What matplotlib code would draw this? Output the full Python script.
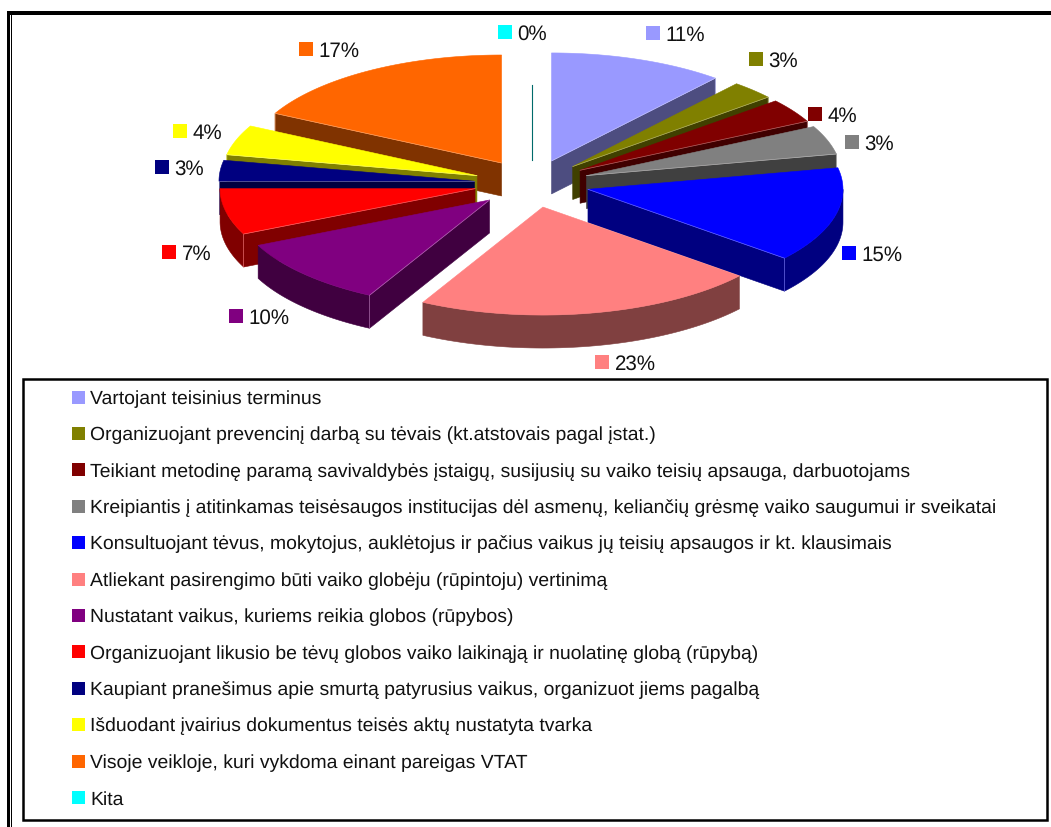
"""
Išskleista 3D skritulinė diagrama su legenda
"""
import numpy as np
import matplotlib
matplotlib.use('Agg')
import matplotlib.pyplot as plt
from matplotlib.colors import to_rgb
from matplotlib.patches import Polygon, Rectangle

plt.rcParams['text.hinting'] = 'no_hinting'

# duomenys
etiketes = ['11%', '3%', '4%', '3%', '15%', '23%', '10%', '7%', '3%', '4%', '17%', '0%']
# dalių dydžiai, išmatuoti paveiksle (3D vaizde jie šiek tiek skiriasi nuo užrašų)
dalys = [11.1, 2.8, 3.6, 4.3, 14.2, 21.8, 10.3, 6.9, 3.1, 4.5, 17.4, 0.0]
spalvos = ['#9999FF', '#808000', '#800000', '#808080', '#0000FF', '#FF8080',
           '#800080', '#FF0000', '#000080', '#FFFF00', '#FF6600', '#00FFFF']
pavadinimai = [
    'Vartojant teisinius terminus',
    'Organizuojant prevencinį darbą su tėvais (kt.atstovais pagal įstat.)',
    'Teikiant metodinę paramą savivaldybės įstaigų, susijusių su vaiko teisių apsauga, darbuotojams',
    'Kreipiantis į atitinkamas teisėsaugos institucijas dėl asmenų, keliančių grėsmę vaiko saugumui ir sveikatai',
    'Konsultuojant tėvus, mokytojus, auklėtojus ir pačius vaikus jų teisių apsaugos ir kt. klausimais',
    'Atliekant pasirengimo būti vaiko globėju (rūpintoju) vertinimą',
    'Nustatant vaikus, kuriems reikia globos (rūpybos)',
    'Organizuojant likusio be tėvų globos vaiko laikinąją ir nuolatinę globą (rūpybą)',
    'Kaupiant pranešimus apie smurtą patyrusius vaikus, organizuot jiems pagalbą',
    'Išduodant įvairius dokumentus teisės aktų nustatyta tvarka',
    'Visoje veikloje, kuri vykdoma einant pareigas VTAT',
    'Kita',
]

# išdėstymas pikseliais
CX, CY = 531.7, 184.5    # skritulio centras
RX, RY = 255, 108        # elipsės pusašiai
DX, DY = 58, 24          # išskleidimas
GYLIS = 33               # sienelės aukštis
etikete_xy = [(646, 34), (749, 60), (808, 115), (845, 143), (842, 254), (595, 363),
              (229, 317), (162, 253), (155, 168), (173, 132), (299, 50), (498, 33)]
FONTAS = 'Liberation Sans'


def siena(ax, taskai, spalva, z):
    ax.add_patch(Polygon(taskai, closed=True, fc=spalva, ec=spalva, lw=0.4, zorder=z))


def piesti_dali(ax, t1, t2, spalva, z):
    """Viena dalis: matomos sienelės ir viršus"""
    vid = (t1 + t2) / 2
    x0 = CX + DX * np.sin(vid)
    y0 = CY - DY * np.cos(vid)
    rgb = to_rgb(spalva)
    tamsi = tuple(k * 0.5 for k in rgb)
    sviesi = tuple(k * 0.5 + 0.5 for k in rgb)

    def krastas(t):
        return x0 + RX * np.sin(t), y0 - RY * np.cos(t)

    if t2 - t1 < 1e-6:
        # 0 % dalis matoma tik kaip plona linija
        xk, yk = krastas(t1)
        ax.plot([xk, x0], [yk + GYLIS, y0], color=(0, 0.42, 0.42), lw=0.8, zorder=z)
        return

    # išorinė sienelė (tik priekinė pusė)
    a = max(t1, np.pi / 2)
    b = min(t2, 3 * np.pi / 2)
    if b > a:
        ts = np.linspace(a, b, 60)
        xs, ys = krastas(ts)
        siena(ax, np.r_[np.c_[xs, ys], np.c_[xs[::-1], ys[::-1] + GYLIS]], tamsi, z)

    # radialinės sienelės
    for t, matoma in ((t1, np.sin(t1) < 0), (t2, np.sin(t2) > 0)):
        if matoma:
            xk, yk = krastas(t)
            siena(ax, [(x0, y0), (xk, yk), (xk, yk + GYLIS), (x0, y0 + GYLIS)], tamsi, z)

    # viršus
    ts = np.linspace(t1, t2, 120)
    xs, ys = krastas(ts)
    siena(ax, np.r_[[(x0, y0)], np.c_[xs, ys]], spalva, z + 0.5)

    # šviesūs kampai
    for t, matoma in ((t1, np.sin(t1) < 0), (t2, np.sin(t2) > 0)):
        if matoma:
            xk, yk = krastas(t)
            ax.plot([x0, xk, xk], [y0, yk, yk + GYLIS], color=sviesi, lw=0.5, alpha=0.8,
                    zorder=z + 0.6)


fig = plt.figure(figsize=(10.51, 8.28), dpi=100)
ax = fig.add_axes([0, 0, 1, 1])
ax.set_xlim(0, 1051)
ax.set_ylim(828, 0)
ax.axis('off')

# rėmelis
ax.add_patch(Rectangle((7.3, 12), 1051, 4, fc='black', ec='none', zorder=1))
ax.add_patch(Rectangle((7.3, 12), 2.9, 828, fc='black', ec='none', zorder=1))
ax.add_patch(Rectangle((11.3, 16), 1.1, 828, fc='black', ec='none', zorder=1))

# skritulio dalys: nuo galinių į priekines
ribos = np.r_[0, np.cumsum(dalys)] / np.sum(dalys) * 2 * np.pi
vidurys = (ribos[:-1] + ribos[1:]) / 2
tvarka = np.argsort(-np.cos(vidurys), kind='stable')
for z, i in enumerate(tvarka):
    piesti_dali(ax, ribos[i], ribos[i + 1], spalvos[i], 2 + z)

# procentų etiketės
for tekstas, s, (x, y) in zip(etiketes, spalvos, etikete_xy):
    ax.add_patch(Rectangle((x, y - 7), 14, 14, fc=s, ec='none', zorder=30))
    ax.text(x + 19.5, y + 1.5, tekstas, family=FONTAS, fontsize=14.8, color='#111111',
            va='center', ha='left', zorder=30)

# legenda
ax.add_patch(Rectangle((22.5, 379.5), 1024, 441.5, fc='white', ec='black', lw=1.8, zorder=25))
for i, (pav, s) in enumerate(zip(pavadinimai, spalvos)):
    y = 398 + i * 36.4
    ax.add_patch(Rectangle((72, y - 6.5), 13, 13, fc=s, ec='none', zorder=30))
    ax.text(90, y + 1, pav, family=FONTAS, fontsize=13.95, color='#111111',
            va='center', ha='left', zorder=30)

fig.savefig('out.png', dpi=100)
